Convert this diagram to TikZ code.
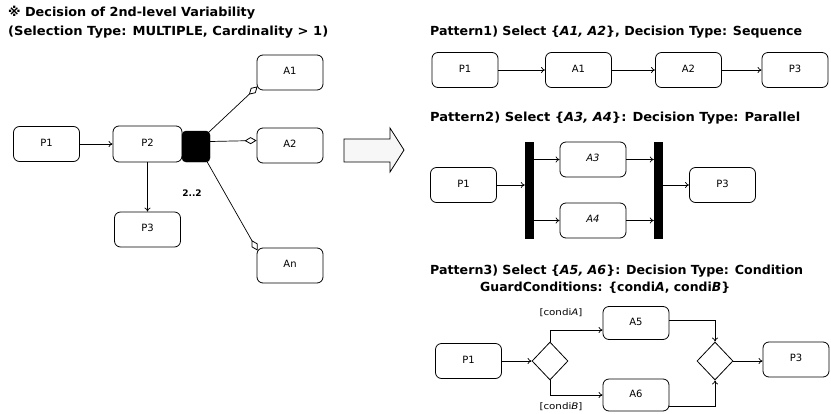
\documentclass[tikz,border=0pt]{standalone}
\usepackage{fontspec}
\setmainfont{DejaVu Sans}
\usetikzlibrary{arrows.meta,shapes.geometric}
% set a line of text at a given width, keeping its natural height
\newcommand\wideas[2]{\resizebox{#1}{\height}{#2}}
\tikzset{
  actbox/.style={draw, line width=0.8pt, rounded corners=6pt, minimum width=66pt,
    minimum height=35pt, inner sep=0pt, font=\fontsize{10}{11}\selectfont},
  up/.style={label={[font=\fontsize{10}{11}\selectfont, inner sep=0pt]center:\raisebox{3pt}{#1}}},
  flow/.style={line width=0.7pt, -{To[length=4pt,width=6pt]}},
  variant/.style={line width=0.7pt, -{Diamond[open,length=12pt,width=7pt,line width=0.8pt]}},
  bar/.style={fill=black, draw=black, minimum width=8pt, minimum height=96pt, inner sep=0pt},
  choice/.style={draw, diamond, line width=0.8pt, minimum width=36pt, minimum height=38pt, inner sep=0pt},
  heading/.style={anchor=west, inner sep=0pt, font=\fontsize{12.5}{14}\selectfont\bfseries},
  guard/.style={inner sep=0pt, font=\fontsize{9}{10}\selectfont}
}
\begin{document}
\begin{tikzpicture}[x=1pt,y=-1pt]
\useasboundingbox (0,0) rectangle (831,413);

% ---- heading of the left part
\node[heading] (t1) at (8,13) {\wideas{247pt}{※ Decision of 2nd-level Variability}};
\node[heading] (t2) at (8,32) {\wideas{320pt}{(Selection Type: MULTIPLE, Cardinality > 1)}};

% ---- variation point with multiple selection
\node[actbox, up=P1] (lP1) at (46.5,144) {};
\node[actbox, minimum width=69pt, minimum height=36pt, up=P2] (lP2) at (147.5,144) {};
\node[actbox, up=P3] (lP3) at (147.5,229.5) {};
\node[fill=black, draw=black, rounded corners=4pt, minimum width=28pt, minimum height=31pt, inner sep=0pt] (blk) at (196,146.5) {};
\node[actbox, up=A1] (lA1) at (290,72.5) {};
\node[actbox, up=A2] (lA2) at (290,145.5) {};
\node[actbox, up=An] (lAn) at (290,265.5) {};
\node[inner sep=0pt, font=\fontsize{9}{10}\selectfont\bfseries] (card) at (192,193) {2..2};

\draw[flow] (lP1) -- (lP2);
\draw[flow] (lP2) -- (lP3);
\draw[variant] ([shift={(-1,1)}]blk.north east) -- ([shift={(1,-4)}]lA1.south west);
\draw[variant] ([yshift=5pt]blk.east) -- ([yshift=5pt]lA2.west);
\draw[variant] ([shift={(-4,-2)}]blk.south east) -- ([shift={(1,3)}]lAn.north west);

% ---- transformation arrow
\draw[line width=0.8pt, fill=gray!6] (344,139) -- (390,139) -- (390,128) -- (404,150)
  -- (390,172) -- (390,162) -- (344,162) -- cycle;

% ---- Pattern 1: sequence
\node[heading] (h1) at (430,32) {\wideas{372pt}{Pattern1) Select \{\textit{A1, A2}\}, Decision Type: Sequence}};
\node[actbox, up=P1] (aP1) at (465,70) {};
\node[actbox, up=A1] (aA1) at (578.5,70) {};
\node[actbox, up=A2] (aA2) at (688.5,70) {};
\node[actbox, up=P3] (aP3) at (795,70) {};
\draw[flow] (aP1) -- (aA1);
\draw[flow] (aA1) -- (aA2);
\draw[flow] (aA2) -- (aP3);

% ---- Pattern 2: parallel
\node[heading] (h2) at (430,118) {\wideas{370pt}{Pattern2) Select \{\textit{A3, A4}\}: Decision Type: Parallel}};
\node[actbox, up=P1] (bP1) at (463.5,185) {};
\node[bar] (bar1) at (529,190) {};
\node[actbox, up=\textit{A3}] (bA3) at (593,159.5) {};
\node[actbox, up=\textit{A4}] (bA4) at (593,220.5) {};
\node[bar] (bar2) at (658,190) {};
\node[actbox, up=P3] (bP3) at (722.5,185) {};
\draw[flow] (bP1) -- (bP1 -| bar1.west);
\draw[flow] (bar1.east |- bA3) -- (bA3);
\draw[flow] (bar1.east |- bA4) -- (bA4);
\draw[flow] (bA3) -- (bA3 -| bar2.west);
\draw[flow] (bA4) -- (bA4 -| bar2.west);
\draw[flow] (bar2.east |- bP3) -- (bP3);

% ---- Pattern 3: condition
\node[heading] (h3) at (430,271) {\wideas{373pt}{Pattern3) Select \{\textit{A5, A6}\}: Decision Type: Condition}};
\node[heading] (h3b) at (480,288) {\wideas{250pt}{GuardConditions: \{condi\textit{A}, condi\textit{B}\}}};
\node[actbox, up=P1] (cP1) at (468.5,361) {};
\node[choice] (cD1) at (550,361) {};
\node[actbox, minimum height=33pt, up=A5] (cA5) at (636,323) {};
\node[actbox, minimum height=32pt, up=A6] (cA6) at (636,395) {};
\node[choice] (cD2) at (715,361) {};
\node[actbox, up=P3] (cP3) at (796,359.5) {};
\node[guard] (gA) at (561,313) {\wideas{43pt}{[condi\textit{A}]}};
\node[guard] (gB) at (561,407) {\wideas{43pt}{[condi\textit{B}]}};
\draw[flow] (cP1) -- (cD1);
\draw[flow] (cD1.north) |- ([yshift=-7pt]cA5.west);
\draw[flow] (cD1.south) |- (cA6.west);
\draw[flow] ([yshift=3pt]cA5.east) -| (cD2.north);
\draw[flow] ([yshift=-11pt]cA6.east) -| (cD2.south);
\draw[flow] (cD2) -- (cD2 -| cP3.west);
\end{tikzpicture}
\end{document}
